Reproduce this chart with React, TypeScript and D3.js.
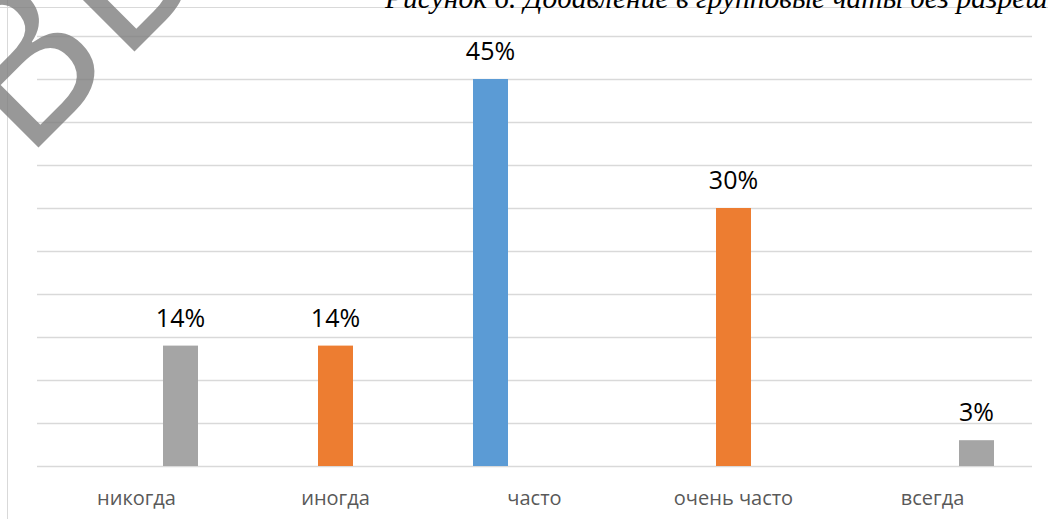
import React, { useEffect, useRef } from "react";
import * as d3 from "d3";

const categories = ["никогда", "иногда", "часто", "очень часто", "всегда"];
const seriesNames = ["blue", "orange", "gray"];
const blueValues = [null, null, 45, null, null];
const orangeValues = [null, 14, null, 30, null];
const grayValues = [14, null, null, null, 3];
const yTicks = [0, 5, 10, 15, 20, 25, 30, 35, 40, 45, 50];
const caption = "Рисунок 6. Добавление в групповые чаты без разрешения";

const colors = d3.scaleOrdinal<string, string>()
  .domain(seriesNames)
  .range(["#5b9bd5", "#ed7d31", "#a5a5a5"]);

export default function App() {
  const ref = useRef<SVGSVGElement>(null);

  useEffect(() => {
    const svg = d3.select(ref.current);
    svg.selectAll("*").remove();

    const left = 37, right = 1032, top = 36, bottom = 466;

    const x = d3.scaleBand().domain(categories).range([left, right]).padding(0);
    const y = d3.scaleLinear().domain([0, 50]).range([bottom, top]);
    const mid = x.bandwidth() / 2;
    const sub = d3.scaleBand().domain(seriesNames)
      .range([mid - 61.5, mid + 61.5]).paddingInner(9 / 44).paddingOuter(0);

    // page borders
    svg.append("line").attr("x1", 0).attr("x2", 1048).attr("y1", 7.5).attr("y2", 7.5)
      .attr("stroke", "#d9d9d9").attr("stroke-width", 1);
    svg.append("line").attr("x1", 7.5).attr("x2", 7.5).attr("y1", 0).attr("y2", 519)
      .attr("stroke", "#d9d9d9").attr("stroke-width", 1);

    // caption (cut by the top and right edge, as in the scan)
    svg.append("text").attr("x", 385).attr("y", 8)
      .attr("font-family", "'Liberation Serif', serif").attr("font-style", "italic")
      .attr("font-size", 29.5).attr("fill", "#000").text(caption);

    // gridlines
    svg.append("g").selectAll("line").data(yTicks).join("line")
      .attr("x1", left).attr("x2", right)
      .attr("y1", d => Math.round(y(d)) + 0.5).attr("y2", d => Math.round(y(d)) + 0.5)
      .attr("stroke", "#d9d9d9").attr("stroke-width", 1.3);

    const series = [
      { key: "blue", values: blueValues },
      { key: "orange", values: orangeValues },
      { key: "gray", values: grayValues },
    ];
    const bars = series.flatMap(s => s.values.map((v, i) => ({ key: s.key, cat: categories[i], v })))
      .filter(d => d.v !== null) as { key: string; cat: string; v: number }[];

    const g = svg.append("g");
    g.selectAll("rect").data(bars).join("rect")
      .attr("x", d => x(d.cat)! + sub(d.key)!)
      .attr("y", d => y(d.v))
      .attr("width", sub.bandwidth())
      .attr("height", d => bottom - y(d.v))
      .attr("fill", d => colors(d.key));

    g.selectAll("text").data(bars).join("text")
      .attr("x", d => x(d.cat)! + sub(d.key)! + sub.bandwidth() / 2)
      .attr("y", d => y(d.v) - 19)
      .attr("text-anchor", "middle")
      .attr("font-family", "'Open Sans', sans-serif").attr("font-size", 25)
      .attr("fill", "#000")
      .text(d => `${d.v}%`);

    // category axis labels
    svg.append("g").selectAll("text").data(categories).join("text")
      .attr("x", d => x(d)! + mid)
      .attr("y", 505)
      .attr("text-anchor", "middle")
      .attr("font-family", "'Open Sans', sans-serif").attr("font-size", 20)
      .attr("fill", "#595959")
      .text(d => d);

    // watermark
    svg.append("text")
      .attr("transform", "translate(24,162) rotate(-45)")
      .attr("font-family", "'Open Sans', sans-serif").attr("font-size", 210)
      .attr("fill", "#7f7f7f").attr("opacity", 0.8)
      .text("ВЫПУСКНАЯ");
  }, []);

  return (
    <svg ref={ref} width={1048} height={519}
      style={{ position: "absolute", left: 0, top: 0, background: "#fff" }} />
  );
}
